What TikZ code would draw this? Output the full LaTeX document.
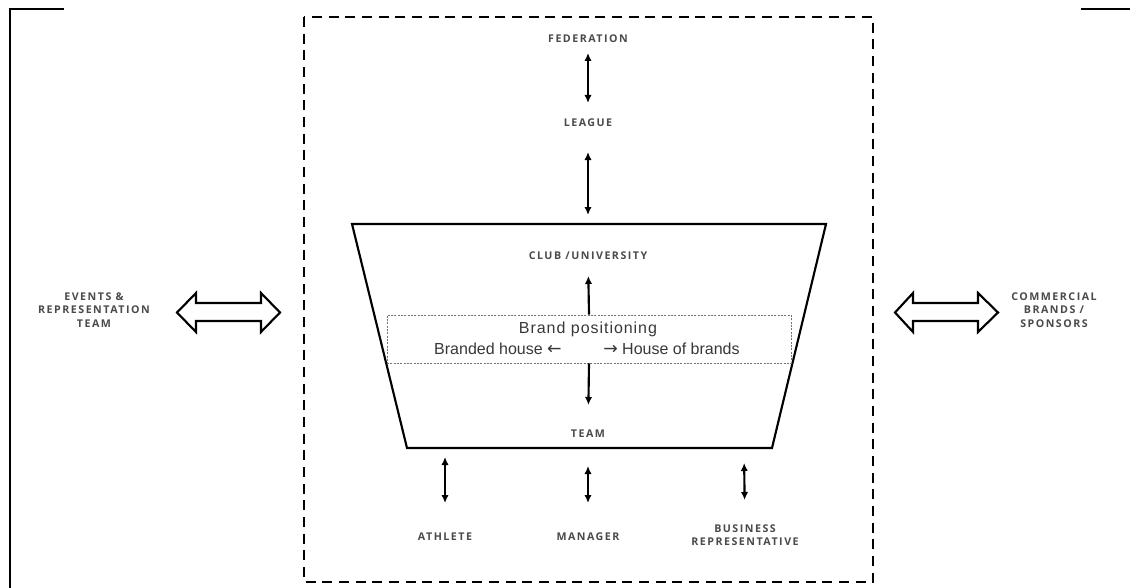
\documentclass[tikz,border=0pt]{standalone}
\usepackage{fontspec}
\setmainfont{Liberation Sans}
\newfontfamily\labfont[LetterSpace=14]{Open Sans}
\newfontfamily\bpfont[LetterSpace=6]{Liberation Sans}
\newfontfamily\arrfont{DejaVu Sans}
\usetikzlibrary{arrows.meta}
\definecolor{labgray}{HTML}{4A4A4A}
\definecolor{txtgray}{HTML}{383838}
\newcommand{\harr}[1]{{\arrfont\fontsize{13}{14}\selectfont #1}}
\begin{document}
\begin{tikzpicture}[x=0.75pt,y=-0.75pt,
  lab/.style={font=\labfont\bfseries\fontsize{8}{10}\selectfont, text=labgray, inner sep=0pt, align=center},
  btxt/.style={font=\fontsize{12}{14}\selectfont, text=txtgray, inner sep=0pt},
  frame/.style={line width=1.5pt, black},
  dashbox/.style={line width=1.6pt, dash pattern=on 7.5pt off 5pt},
  trap/.style={line width=1.6pt, line join=miter},
  brandbox/.style={draw=black!55, line width=0.6pt, dash pattern=on 1.5pt off 1pt, minimum width=303pt, minimum height=36pt, inner sep=0pt},
  link/.style={line width=1.6pt, {Latex[length=6pt,width=5.5pt]}-{Latex[length=6pt,width=5.5pt]}},
  onelink/.style={line width=1.6pt, -{Latex[length=6pt,width=5.5pt]}},
  hollow/.style={line width=1.6pt, line join=miter, fill=white}
]
\path[use as bounding box] (0,0) rectangle (1130,588);

% outer brackets
\draw[frame] (64,9) -- (10,9) -- (10,588);
\draw[frame] (1081,9) -- (1130,9);

% dashed box
\draw[dashbox] (304,17) rectangle (873,582);

% trapezoid
\draw[trap] (352,224) -- (826,224) -- (772,448) -- (407,448) -- cycle;
\coordinate (ttop) at (588,224);
\coordinate (bA) at (445,448);
\coordinate (bM) at (588,448);
\coordinate (bB) at (744,448);

% labels
\node[lab] (fed) at (588,39) {FEDERATION};
\node[lab] (league) at (588,123) {LEAGUE};
\node[lab] (club) at (588,256) {CLUB /UNIVERSITY};
\node[lab] (team) at (588,434) {TEAM};
\node[lab] (athlete) at (445,537) {ATHLETE};
\node[lab] (manager) at (588,537) {MANAGER};
\node[lab] (business) at (745,535) {BUSINESS\\REPRESENTATIVE};
\node[lab] (events) at (94,310) {EVENTS \&\\REPRESENTATION\\TEAM};
\node[lab] (commercial) at (1054,310) {COMMERCIAL\\BRANDS /\\SPONSORS};

% brand positioning box
\node[brandbox] (bbox) at (589,339) {};
\node[btxt, font=\bpfont\fontsize{12}{14}\selectfont] (bp) at (588,329) {Brand positioning};
\node[btxt, anchor=base east] (bh) at (562,354) {Branded house \harr{←}};
\node[btxt, anchor=base west] (hb) at (603,354) {\harr{→} House of brands};

% connectors
\draw[link, shorten <=10.5pt, shorten >=15pt] (fed.center) -- (league.center);
\draw[link, shorten <=21.75pt, shorten >=6.75pt] (league.center) -- (ttop);
\draw[onelink, shorten >=15pt] (bbox.north) -- (club.center);
\draw[onelink, shorten >=21.75pt] (bbox.south) -- (team.center);
\draw[link, shorten <=6.75pt, shorten >=25.5pt] (bA) -- (athlete.center);
\draw[link, shorten <=13.5pt, shorten >=25.5pt] (bM) -- (manager.center);
\draw[link, shorten <=11.25pt, shorten >=26.25pt] (bB) -- (business.center);

% hollow double arrows
\draw[hollow] (177,312.5) -- (196,293) -- (196,303) -- (261,303) -- (261,293) -- (280,312.5)
  -- (261,332) -- (261,321) -- (196,321) -- (196,332) -- cycle;
\draw[hollow] (895,312.5) -- (913,293) -- (913,303) -- (978,303) -- (978,293) -- (998,312.5)
  -- (978,332) -- (978,321) -- (913,321) -- (913,332) -- cycle;
\end{tikzpicture}
\end{document}
